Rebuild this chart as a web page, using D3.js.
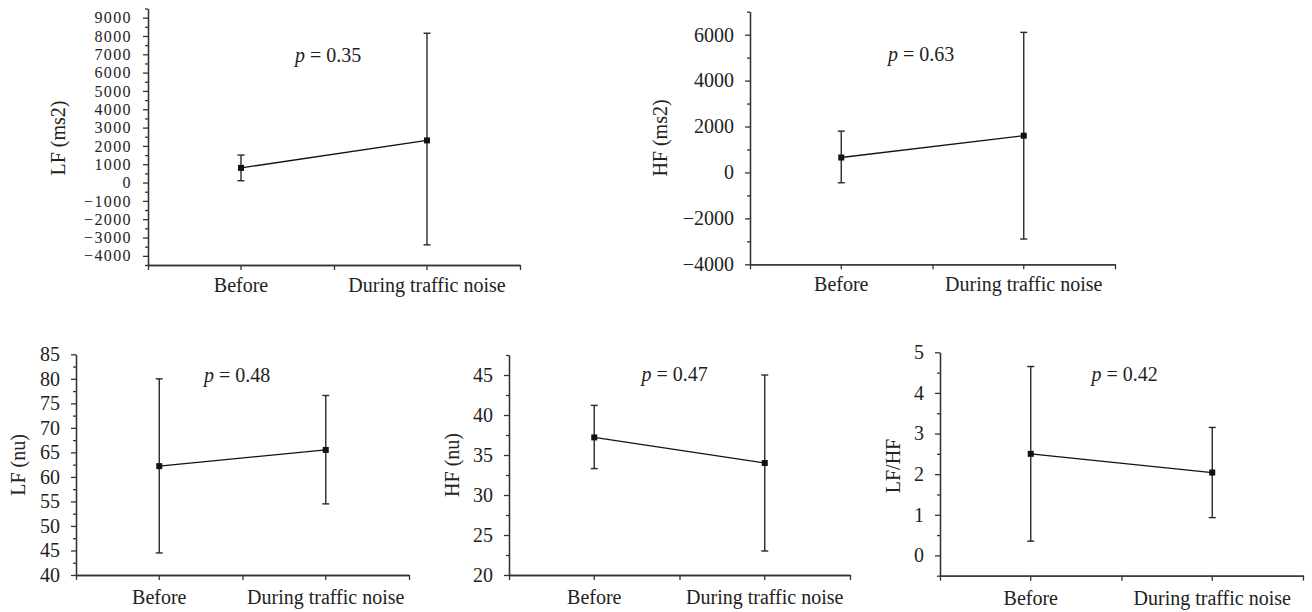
<!DOCTYPE html>
<html>
<head>
<meta charset="utf-8">
<script src="https://cdn.jsdelivr.net/npm/d3@7"></script>
<style>
  body { margin: 0; background: #fff; }
  svg text { font-family: "Liberation Serif", "Times New Roman", serif; fill: #222; }
</style>
</head>
<body>
<div class="chart"></div>
<script>
// Categories shared by all panels
var categories = ["Before", "During traffic noise"];

// LF (ms2)
var lfMsMean = [800, 2300];
var lfMsUpper = [1500, 8150];
var lfMsLower = [100, -3400];
var lfMsTicks = [-4000, -3000, -2000, -1000, 0, 1000, 2000, 3000, 4000, 5000, 6000, 7000, 8000, 9000];

// HF (ms2)
var hfMsMean = [650, 1600];
var hfMsUpper = [1800, 6100];
var hfMsLower = [-450, -2900];
var hfMsTicks = [-4000, -2000, 0, 2000, 4000, 6000];

// LF (nu)
var lfNuMean = [62.2, 65.5];
var lfNuUpper = [80, 76.6];
var lfNuLower = [44.5, 54.5];
var lfNuTicks = [40, 45, 50, 55, 60, 65, 70, 75, 80, 85];

// HF (nu)
var hfNuMean = [37.2, 34];
var hfNuUpper = [41.2, 45];
var hfNuLower = [33.3, 23];
var hfNuTicks = [20, 25, 30, 35, 40, 45];

// LF/HF
var ratioMean = [2.5, 2.04];
var ratioUpper = [4.65, 3.15];
var ratioLower = [0.35, 0.93];
var ratioTicks = [0, 1, 2, 3, 4, 5];

var pValues = ["0.35", "0.63", "0.48", "0.47", "0.42"];
var yLabels = ["LF (ms2)", "HF (ms2)", "LF (nu)", "HF (nu)", "LF/HF"];

var svg = d3.select(".chart")
  .append("svg")
  .attr("width", 1312)
  .attr("height", 612);

// Panel layout: plot box, y domain, minor step, label spots
var panels = [
  { mean: lfMsMean, upper: lfMsUpper, lower: lfMsLower, ticks: lfMsTicks,
    domain: [-4500, 9500], minor: 500, x0: 148, x1: 520, yBottom: 265, yTop: 8.5,
    labelX: 58, labelY: 138, pX: 295, pY: 62, catGap: 27, tickFont: 16, tickSpacing: 1.4 },
  { mean: hfMsMean, upper: hfMsUpper, lower: hfMsLower, ticks: hfMsTicks,
    domain: [-4000, 7000], minor: 1000, x0: 750, x1: 1115, yBottom: 264.3, yTop: 11.7,
    labelX: 660, labelY: 138, pX: 888, pY: 61, catGap: 27, tickFont: 20, tickSpacing: 0 },
  { mean: lfNuMean, upper: lfNuUpper, lower: lfNuLower, ticks: lfNuTicks,
    domain: [40, 85], minor: 2.5, x0: 76, x1: 409, yBottom: 575, yTop: 354.3,
    labelX: 18, labelY: 465, pX: 204, pY: 381.5, catGap: 29, tickFont: 20, tickSpacing: 0 },
  { mean: hfNuMean, upper: hfNuUpper, lower: hfNuLower, ticks: hfNuTicks,
    domain: [20, 47.5], minor: 2.5, x0: 509, x1: 850, yBottom: 575, yTop: 355,
    labelX: 452, labelY: 465, pX: 641.5, pY: 381, catGap: 29, tickFont: 20, tickSpacing: 0 },
  { mean: ratioMean, upper: ratioUpper, lower: ratioLower, ticks: ratioTicks,
    domain: [-0.5, 5], minor: 0.5, x0: 940, x1: 1303, yBottom: 575.7, yTop: 352.3,
    labelX: 893, labelY: 466, pX: 1091.5, pY: 381, catGap: 29, tickFont: 20, tickSpacing: 0 }
];

var numFmt = function(d) { return d3.format("")(d).replace("-", "\u2212"); };

panels.forEach(function(p, i) {
  var g = svg.append("g");

  var xBand = d3.scaleBand()
    .domain(categories)
    .range([p.x0, p.x1]);

  var xEdge = d3.scaleLinear()
    .domain([0, 2])
    .range([p.x0, p.x1]);

  var y = d3.scaleLinear()
    .domain(p.domain)
    .range([p.yBottom, p.yTop]);

  // minor ticks halfway between majors
  var minorTicks = d3.range(p.domain[0], p.domain[1] + p.minor / 2, p.minor)
    .filter(function(v) { return p.ticks.indexOf(+v.toFixed(4)) < 0; });

  g.append("g")
    .attr("class", "y-minor")
    .attr("transform", "translate(" + p.x0 + ",0)")
    .call(d3.axisLeft(y).tickValues(minorTicks).tickSize(3).tickSizeOuter(0).tickFormat(""));

  var yAxis = g.append("g")
    .attr("class", "y-axis")
    .attr("transform", "translate(" + p.x0 + ",0)")
    .call(d3.axisLeft(y).tickValues(p.ticks).tickSize(5).tickSizeOuter(0).tickPadding(11).tickFormat(numFmt));

  // x axis: ticks at category centres and at edges
  g.append("g")
    .attr("class", "x-edge")
    .attr("transform", "translate(0," + p.yBottom + ")")
    .call(d3.axisBottom(xEdge).tickValues([0, 1, 2]).tickSize(5).tickSizeOuter(0).tickFormat(""));

  var xAxis = g.append("g")
    .attr("class", "x-axis")
    .attr("transform", "translate(0," + p.yBottom + ")")
    .call(d3.axisBottom(xBand).tickSize(5).tickSizeOuter(0));

  g.selectAll(".domain, .tick line")
    .attr("stroke", "#333")
    .attr("stroke-width", 1.3);

  g.selectAll(".tick text")
    .style("font-family", "'Liberation Serif', serif")
    .style("font-size", "20px")
    .attr("fill", "#222");

  yAxis.selectAll(".tick text")
    .style("font-size", p.tickFont + "px")
    .style("letter-spacing", p.tickSpacing + "px");

  xAxis.selectAll(".tick text")
    .attr("dy", null)
    .attr("y", p.catGap)
    .attr("dominant-baseline", "alphabetic");

  var cx = function(j) { return xBand(categories[j]) + xBand.bandwidth() / 2; };
  var idx = d3.range(categories.length);

  // error bars
  g.selectAll(".err")
    .data(idx)
    .enter()
    .append("line")
    .attr("x1", cx)
    .attr("x2", cx)
    .attr("y1", function(j) { return y(p.upper[j]); })
    .attr("y2", function(j) { return y(p.lower[j]); })
    .attr("stroke", "#2a2a2a")
    .attr("stroke-width", 1.4);

  [p.upper, p.lower].forEach(function(arr) {
    g.selectAll(null)
      .data(idx)
      .enter()
      .append("line")
      .attr("x1", function(j) { return cx(j) - 3.5; })
      .attr("x2", function(j) { return cx(j) + 3.5; })
      .attr("y1", function(j) { return y(arr[j]); })
      .attr("y2", function(j) { return y(arr[j]); })
      .attr("stroke", "#2a2a2a")
      .attr("stroke-width", 1.4);
  });

  // connecting line
  var line = d3.line()
    .x(function(j) { return cx(j); })
    .y(function(j) { return y(p.mean[j]); });

  g.append("path")
    .datum(idx)
    .attr("d", line)
    .attr("fill", "none")
    .attr("stroke", "#111")
    .attr("stroke-width", 1.3);

  // square markers
  g.selectAll(".marker")
    .data(idx)
    .enter()
    .append("rect")
    .attr("x", function(j) { return cx(j) - 3; })
    .attr("y", function(j) { return y(p.mean[j]) - 3; })
    .attr("width", 6)
    .attr("height", 6)
    .attr("fill", "#111");

  // y label
  g.append("text")
    .attr("transform", "translate(" + p.labelX + "," + p.labelY + ") rotate(-90)")
    .attr("text-anchor", "middle")
    .attr("dominant-baseline", "central")
    .style("font-size", "20px")
    .text(yLabels[i]);

  // p value
  var pt = g.append("text")
    .attr("x", p.pX)
    .attr("y", p.pY)
    .style("font-size", "20px");
  pt.append("tspan").style("font-style", "italic").text("p");
  pt.append("tspan").text(" = " + pValues[i]);
});
</script>
</body>
</html>
